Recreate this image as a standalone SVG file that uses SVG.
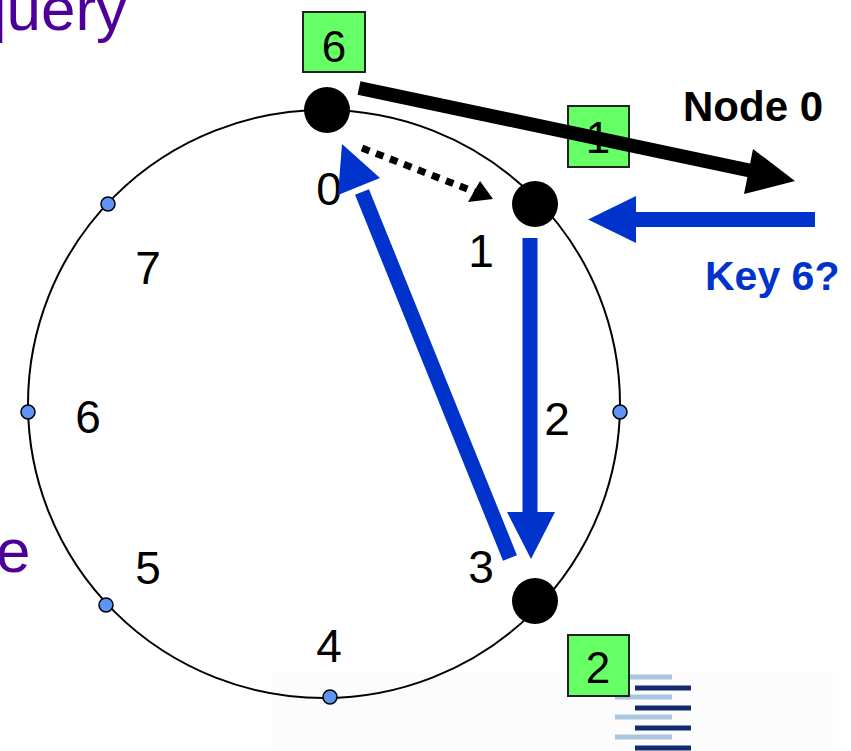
<svg xmlns="http://www.w3.org/2000/svg" width="851" height="751" viewBox="0 0 851 751">
<style>
.lbl{font-family:"Liberation Sans",Arial,sans-serif;font-size:46px;fill:#000;text-anchor:middle}
.box{fill:#66ff66;stroke:#222;stroke-width:2}
.bnum{font-family:"Liberation Sans",Arial,sans-serif;font-size:44px;fill:#000;text-anchor:middle}
.dot{fill:#5f93f5;stroke:#000;stroke-width:1.5}
.node{fill:#000}
.purple{font-family:"Liberation Sans",Arial,sans-serif;font-size:62px;fill:#4d0099}
.blue{stroke:#0033cc;stroke-width:15;fill:none}
.bhead{fill:#0033cc}
.lt{stroke:#a9c6de;stroke-width:5}
.dk{stroke:#142a6e;stroke-width:5}
</style>
<rect width="851" height="751" fill="#fff"/>
<rect x="273" y="673" width="560" height="78" fill="#fcfcfc"/>
<text class="purple" x="-28" y="30">query</text>
<text class="purple" x="-4" y="572">e</text>
<g id="ring">
<ellipse cx="324" cy="404" rx="296" ry="294" fill="none" stroke="#000" stroke-width="2"/>
</g>
<g id="logo">
<line class="lt" x1="630" y1="677" x2="672" y2="677"/>
<line class="lt" x1="615" y1="697" x2="672" y2="697"/>
<line class="lt" x1="615" y1="717" x2="672" y2="717"/>
<line class="lt" x1="615" y1="737" x2="672" y2="737"/>
<line class="dk" x1="635" y1="688" x2="691" y2="688"/>
<line class="dk" x1="635" y1="708" x2="691" y2="708"/>
<line class="dk" x1="635" y1="728" x2="691" y2="728"/>
<line class="dk" x1="635" y1="748" x2="691" y2="748"/>
</g>
<g id="labels">
<text class="lbl" x="329" y="205">0</text>
<text class="lbl" x="481" y="267">1</text>
<text class="lbl" x="557" y="435">2</text>
<text class="lbl" x="481" y="583">3</text>
<text class="lbl" x="329" y="662">4</text>
<text class="lbl" x="148" y="584">5</text>
<text class="lbl" x="88" y="433">6</text>
<text class="lbl" x="148" y="284">7</text>
</g>
<g id="dots">
<circle class="dot" cx="108" cy="204" r="7"/>
<circle class="dot" cx="28" cy="412" r="7"/>
<circle class="dot" cx="106" cy="605" r="7"/>
<circle class="dot" cx="330" cy="697" r="7"/>
<circle class="dot" cx="620" cy="412" r="7"/>
</g>
<g id="box6"><rect class="box" x="303" y="12" width="62" height="60"/><text class="bnum" x="334" y="62">6</text></g>
<g id="box1"><rect class="box" x="568" y="106" width="61" height="61"/><text class="bnum" x="598" y="153">1</text></g>
<g id="box2"><rect class="box" x="568" y="635" width="61" height="61"/><text class="bnum" x="598" y="683">2</text></g>
<g id="node0"><circle class="node" cx="327" cy="110" r="23"/></g>
<g id="node1"><circle class="node" cx="535" cy="204" r="23"/></g>
<g id="node3"><circle class="node" cx="535" cy="601" r="23"/></g>
<g id="connectors">
<line x1="359" y1="88" x2="752" y2="171" stroke="#000" stroke-width="14"/>
<polygon points="795,181 753,149 744,194" fill="#000"/>
<line x1="362" y1="148" x2="475" y2="192" stroke="#000" stroke-width="7" stroke-dasharray="8,7"/>
<polygon points="493,199 468,202 480,181" fill="#000"/>
<line class="blue" x1="815" y1="219.5" x2="630" y2="219.5"/>
<polygon class="bhead" points="588,219.5 636,196 636,243"/>
<line class="blue" x1="530" y1="238" x2="530" y2="518"/>
<polygon class="bhead" points="507,512 555,512 531,559"/>
<line class="blue" x1="510" y1="558" x2="362" y2="192"/>
<polygon class="bhead" points="342,144 380,178 338,195"/>
</g>
<g id="texts">
<text x="683" y="121" font-family="Liberation Sans,Arial,sans-serif" font-size="42" font-weight="bold" fill="#000">Node 0</text>
<text x="705" y="290" font-family="Liberation Sans,Arial,sans-serif" font-size="41" font-weight="bold" fill="#0033cc">Key 6?</text>
</g>
</svg>
